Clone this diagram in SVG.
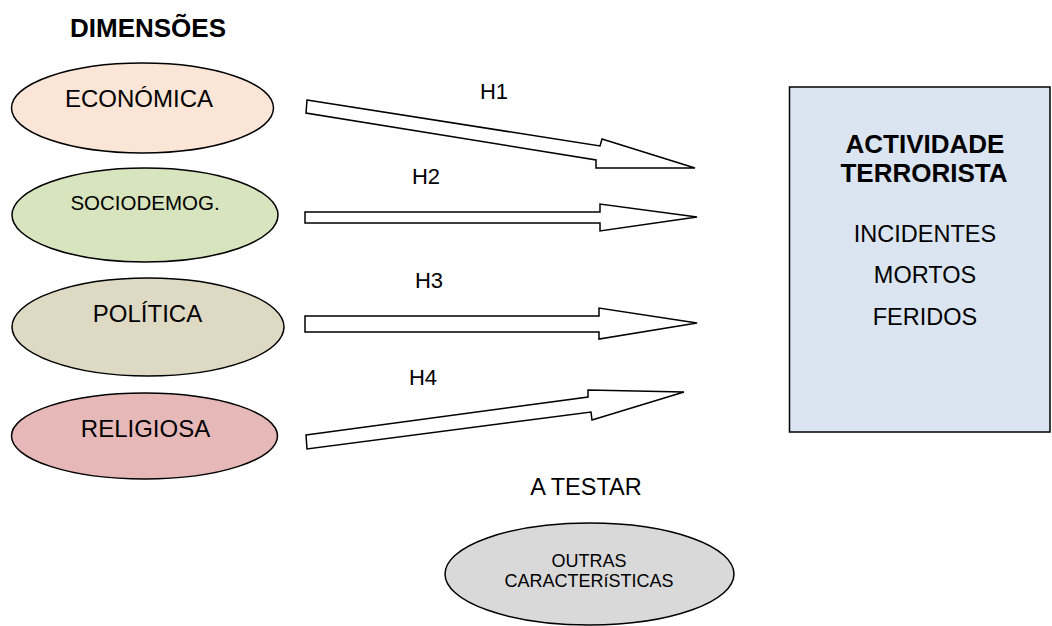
<svg xmlns="http://www.w3.org/2000/svg" width="1052" height="626" viewBox="0 0 1052 626">
<style>
text{font-family:"Liberation Sans",Arial,sans-serif;fill:#000;text-anchor:middle}
.b{font-weight:bold}
.node{stroke:#000;stroke-width:1.5}
.arrow{fill:#fff;stroke:#000;stroke-width:1.5;stroke-linejoin:miter}
</style>
<rect width="1052" height="626" fill="#fff"/>
<text id="title" class="b" x="148" y="37" font-size="26">DIMENSÕES</text>
<g id="economica"><ellipse class="node" cx="142.5" cy="108" rx="131" ry="45" fill="#fbe5d6"/><text x="139" y="107" font-size="24">ECONÓMICA</text></g>
<g id="sociodemog"><ellipse class="node" cx="145" cy="215" rx="133" ry="47" fill="#d7e4bd"/><text x="145" y="210" font-size="20.5">SOCIODEMOG.</text></g>
<g id="politica"><ellipse class="node" cx="148" cy="327" rx="136" ry="49" fill="#ddd9c3"/><text x="147.5" y="322" font-size="24">POLÍTICA</text></g>
<g id="religiosa"><ellipse class="node" cx="144.5" cy="436" rx="133" ry="43" fill="#e6b9b8"/><text x="145.5" y="437" font-size="24">RELIGIOSA</text></g>
<g id="actividade"><rect class="node" x="789.5" y="87" width="260.5" height="345" fill="#dbe5f1"/>
<text class="b" x="925" y="153" font-size="26">ACTIVIDADE</text>
<text class="b" x="924" y="182" font-size="26">TERRORISTA</text>
<text x="925" y="242" font-size="23.5">INCIDENTES</text>
<text x="925" y="283" font-size="23.5">MORTOS</text>
<text x="925" y="325" font-size="23.5">FERIDOS</text></g>
<g id="outras"><ellipse class="node" cx="589.5" cy="574" rx="144.5" ry="51" fill="#d9d9d9"/>
<text x="589" y="567" font-size="18">OUTRAS</text>
<text x="589" y="587" font-size="18">CARACTERíSTICAS</text></g>
<text id="atestar" x="586" y="495" font-size="23.5">A TESTAR</text>
<g id="connectors">
<polygon class="arrow" points="307,100 600,146 602,139 695,168 596,168 596,160 306,113"/>
<polygon class="arrow" points="305,212 600,212 600,204 697,217 600,231 600,223 305,223"/>
<polygon class="arrow" points="305,316 599,316 599,308 697,323 599,339 599,332 305,332"/>
<polygon class="arrow" points="306,435 588,397 588,390 684,392 592,420 591,412 307,449"/>
<text x="494" y="99" font-size="22">H1</text>
<text x="426" y="184" font-size="22">H2</text>
<text x="429" y="288" font-size="22">H3</text>
<text x="423" y="385" font-size="22">H4</text>
</g>
</svg>
